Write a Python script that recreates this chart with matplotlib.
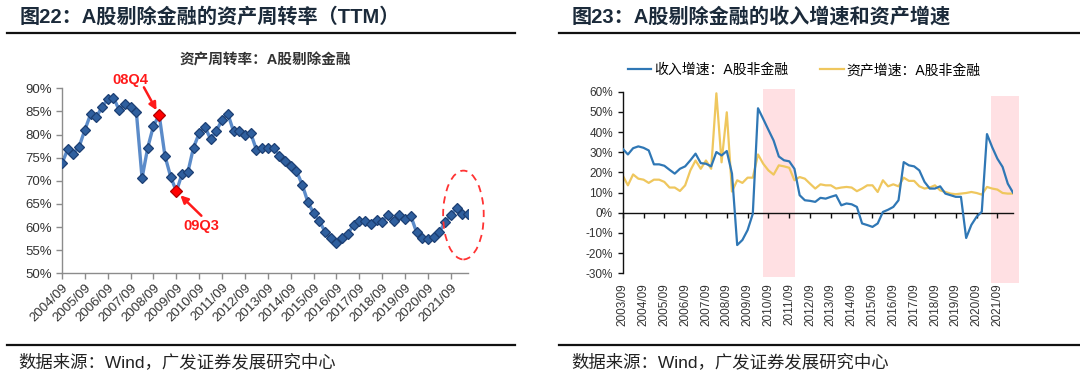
import matplotlib
matplotlib.use("Agg")
import matplotlib.pyplot as plt
from matplotlib.patches import Ellipse, Rectangle
from matplotlib.lines import Line2D
from matplotlib.ticker import FuncFormatter

plt.rcParams['font.family'] = ['Liberation Sans', 'Noto Sans CJK SC']
plt.rcParams['axes.unicode_minus'] = False

# data ##############
# quarterly asset turnover (TTM), 2004/09 .. 2022/06, in %
turnover = [
    73.8, 76.8, 75.8, 77.4, 81.0, 84.4, 83.7, 86.0, 87.6, 88.0,
    85.3, 86.6, 85.9, 84.9, 70.6, 77.2, 81.9, 84.2, 75.4, 70.9,
    67.7, 71.5, 71.8, 77.2, 80.3, 81.6, 79.0, 80.8, 83.2, 84.5,
    80.7, 80.7, 79.8, 80.3, 76.7, 77.2, 77.2, 77.2, 75.4, 74.3,
    73.3, 72.1, 69.2, 65.4, 63.0, 61.3, 59.0, 57.6, 56.6, 57.6,
    58.6, 60.5, 61.4, 61.4, 60.7, 61.5, 61.2, 62.6, 61.4, 62.5,
    61.8, 62.4, 58.9, 57.7, 57.4, 57.9, 59.0, 61.0, 62.6, 64.1,
    62.8, 62.8,
]
turnover_ticklabels = [
    "2004/09", "2005/09", "2006/09", "2007/09", "2008/09", "2009/09",
    "2010/09", "2011/09", "2012/09", "2013/09", "2014/09", "2015/09",
    "2016/09", "2017/09", "2018/09", "2019/09", "2020/09", "2021/09",
]
highlight_idx = [17, 20]          # 08Q4, 09Q3
highlight_txt = ["08Q4", "09Q3"]

# quarterly growth rates, 2003/09 .. 2022/06, in %
revenue_growth = [
    31.7, 28.9, 32.0, 32.9, 32.2, 30.9, 24.0, 24.0, 23.3, 21.3,
    19.4, 21.8, 23.0, 26.0, 29.3, 24.6, 24.3, 23.0, 30.1, 28.4,
    30.6, 19.4, -16.0, -13.5, -8.6, -0.5, 51.8, 46.5, 41.1, 35.8,
    27.9, 26.0, 25.5, 21.8, 8.7, 6.2, 5.9, 5.4, 7.4, 7.0,
    7.9, 8.7, 3.7, 4.6, 4.2, 2.9, -5.3, -6.1, -7.0, -5.3,
    0.4, 1.5, 2.9, 6.2, 25.1, 23.5, 23.0, 21.0, 15.3, 12.0,
    12.0, 13.1, 9.5, 8.7, 7.9, 7.9, -12.5, -6.0, -2.0, 0.5,
    39.0, 32.5, 26.8, 22.7, 14.4, 10.0,
]
asset_growth = [
    18.5, 13.6, 19.0, 16.9, 16.4, 14.8, 16.4, 16.4, 15.3, 12.5,
    12.5, 10.8, 13.6, 21.0, 25.9, 21.8, 25.9, 21.8, 59.2, 25.0,
    49.8, 10.5, 16.1, 14.8, 17.4, 17.4, 28.9, 24.3, 21.0, 18.9,
    23.5, 23.0, 22.3, 16.1, 17.7, 16.9, 14.4, 12.0, 14.1, 13.6,
    13.6, 12.0, 12.5, 12.8, 12.5, 10.7, 12.0, 13.6, 13.6, 10.3,
    16.1, 13.1, 14.1, 13.1, 17.4, 15.8, 15.8, 13.1, 12.0, 12.5,
    13.6, 11.1, 10.3, 9.5, 9.2, 9.5, 9.8, 10.3, 9.8, 9.0,
    12.8, 12.0, 11.5, 9.8, 9.5, 9.5,
]
growth_ticklabels = [
    "2003/09", "2004/09", "2005/09", "2006/09", "2007/09", "2008/09",
    "2009/09", "2010/09", "2011/09", "2012/09", "2013/09", "2014/09",
    "2015/09", "2016/09", "2017/09", "2018/09", "2019/09", "2020/09",
    "2021/09",
]
# shaded periods (quarter index span)
shade_spans = [(27.0, 33.2), (70.7, 76.2)]
shade_yspans = [(-31.8, 61.3), (-35.0, 58.0)]
##########################

W, H = 1080, 379
fig = plt.figure(figsize=(W/100, H/100), dpi=100)

def fx(px): return px/W
def fy(py): return 1 - py/H

title_color = '#1b2a3a'
src_color = '#222222'

# header / footer for both panels
for x0, x1, tx, title, sx in [
    (7, 515, 20, "图22：A股剔除金融的资产周转率（TTM）", 18),
    (559, 1080, 572, "图23：A股剔除金融的收入增速和资产增速", 571),
]:
    fig.text(fx(tx), fy(17), title, fontsize=14.5, fontweight='bold',
             color=title_color, ha='left', va='center')
    fig.add_artist(Line2D([fx(x0), fx(x1)], [fy(32.5), fy(32.5)],
                          color='#111111', lw=1.6))
    fig.add_artist(Line2D([fx(x0), fx(x1)], [fy(344.5), fy(344.5)],
                          color='#111111', lw=1.6))
    fig.text(fx(sx), fy(362), "数据来源：Wind，广发证券发展研究中心",
             fontsize=12.5, color=src_color, ha='left', va='center')

pct = FuncFormatter(lambda v, p: f"{v:.0f}%")

# left panel: asset turnover ##########
axl = fig.add_axes([fx(62), fy(273.3), fx(406), (273.3-88.3)/H])
xs = list(range(len(turnover)))
axl.plot(xs, turnover, color='#5b8bc9', lw=2.4, zorder=2)
axl.plot(xs, turnover, ls='none', marker='D', ms=4.6,
         mfc='#2f5f9e', mec='#1c3f73', mew=0.9, zorder=3)
hx = highlight_idx
hy = [turnover[i] for i in hx]
axl.plot(hx, hy, ls='none', marker='D', ms=6.5,
         mfc='#ff0000', mec='#b00000', mew=0.9, zorder=4)

axl.set_xlim(0, len(turnover)-1)
axl.set_ylim(50, 90)
axl.set_yticks(range(50, 91, 5))
axl.yaxis.set_major_formatter(pct)
axl.set_xticks(range(0, 4*len(turnover_ticklabels), 4))
axl.set_xticklabels(turnover_ticklabels, rotation=45, ha='right',
                    va='top', rotation_mode='anchor')
for s in ['top', 'right']:
    axl.spines[s].set_visible(False)
for s in ['left', 'bottom']:
    axl.spines[s].set_color('#8c8c8c')
    axl.spines[s].set_linewidth(1.0)
axl.tick_params(axis='both', colors='#8c8c8c', labelcolor='#333333',
                labelsize=9.5, length=4, width=1.0)
axl.tick_params(axis='x', pad=2)

fig.text(fx(265), fy(60), "资产周转率：A股剔除金融", fontsize=10.5,
         fontweight='bold', color='#333333', ha='center', va='center')

# 08Q4 annotation
axl.annotate("", xy=(hx[0], hy[0]), xytext=(-11, 20),
             textcoords='offset points',
             arrowprops=dict(arrowstyle='-|>', color='#ff1a1a', lw=1.8,
                             mutation_scale=11, shrinkA=0, shrinkB=4))
axl.annotate(highlight_txt[0], xy=(hx[0], hy[0]), xytext=(-21, 25),
             textcoords='offset points', ha='center', va='center',
             color='#ff1a1a', fontsize=10.5, fontweight='bold')
# 09Q3 annotation
axl.annotate("", xy=(hx[1], hy[1]), xytext=(18, -17.5),
             textcoords='offset points',
             arrowprops=dict(arrowstyle='-|>', color='#ff1a1a', lw=1.8,
                             mutation_scale=11, shrinkA=0, shrinkB=4))
axl.annotate(highlight_txt[1], xy=(hx[1], hy[1]), xytext=(18, -25),
             textcoords='offset points', ha='center', va='center',
             color='#ff1a1a', fontsize=10.5, fontweight='bold')

# dashed ellipse around the latest quarters
axl.add_patch(Ellipse((70.2, 62.6), 7.1, 19.2, fill=False,
                      edgecolor='#ff3333', ls=(0, (4, 3)), lw=1.3,
                      clip_on=False, zorder=5))

# right panel: growth rates ##########
axr = fig.add_axes([fx(622.7), fy(273.3), fx(390.3), (273.3-91.7)/H])
gx = list(range(len(revenue_growth)))
for (a, b), (lo, hi) in zip(shade_spans, shade_yspans):
    axr.add_patch(Rectangle((a, lo), b-a, hi-lo, facecolor='#ffe0e3',
                            edgecolor='none', clip_on=False, zorder=0))
axr.plot(gx, asset_growth, color='#efc75e', lw=1.6, zorder=2,
         label="资产增速：A股非金融")
axr.plot(gx, revenue_growth, color='#2f77b5', lw=1.6, zorder=3,
         label="收入增速：A股非金融")

# spine position first: moving it resets the tick labels
for s in ['top', 'right']:
    axr.spines[s].set_visible(False)
axr.spines['bottom'].set_position(('data', 0))
for s in ['left', 'bottom']:
    axr.spines[s].set_color('#111111')
    axr.spines[s].set_linewidth(1.0)

axr.set_xlim(0, len(revenue_growth)-1)
axr.set_ylim(-30, 60)
axr.set_yticks(range(-30, 61, 10))
axr.yaxis.set_major_formatter(pct)
axr.set_xticks(range(0, 4*len(growth_ticklabels), 4))
axr.set_xticklabels(growth_ticklabels)
axr.tick_params(axis='both', colors='#111111', labelcolor='#333333',
                labelsize=8.5, length=3.5, width=1.0)
axr.tick_params(axis='x', pad=47, labelrotation=90)

h, l = axr.get_legend_handles_labels()
axr.legend(h[::-1], l[::-1], loc='center', bbox_to_anchor=(0.465, 1.12),
           ncol=2, frameon=False, fontsize=10, handlelength=1.7,
           handletextpad=0.2, columnspacing=2.3)

fig.savefig("out.png", dpi=100)
